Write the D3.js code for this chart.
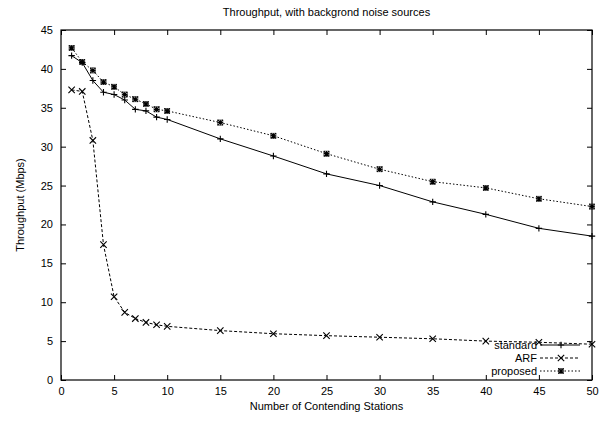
<!DOCTYPE html>
<html><head><meta charset="utf-8">
<script src="https://cdn.jsdelivr.net/npm/d3@7"></script>
<style>
body{margin:0;background:#fff;}
svg{display:block;font-family:"Liberation Sans",Arial,sans-serif;}
</style></head>
<body>
<svg id="c" width="610" height="422"></svg>
<script>
const stations = [1,2,3,4,5,6,7,8,9,10,15,20,25,30,35,40,45,50];
const standard = [41.7,40.8,38.5,37.0,36.7,36.0,34.8,34.6,33.8,33.5,31.0,28.8,26.5,25.0,22.9,21.3,19.5,18.5];
const arf      = [37.3,37.1,30.8,17.4,10.7,8.7,7.9,7.4,7.1,6.9,6.35,5.95,5.7,5.5,5.3,5.0,4.85,4.6];
const proposed = [42.7,40.9,39.8,38.3,37.7,36.7,36.1,35.5,34.8,34.6,33.1,31.4,29.1,27.1,25.5,24.7,23.3,22.3];
const xTicks = [0,5,10,15,20,25,30,35,40,45,50];
const yTicks = [0,5,10,15,20,25,30,35,40,45];
const seriesNames = ["standard","ARF","proposed"];

const svg = d3.select("#c");
const L=61, R=592, T=30, B=380;
const x = d3.scaleLinear().domain([0,50]).range([L,R]);
const y = d3.scaleLinear().domain([0,45]).range([B,T]);
const fs = 11;

const tk = 5;
svg.append("g").attr("transform",`translate(0,${B})`)
  .call(d3.axisBottom(x).tickValues(xTicks).tickSizeInner(-tk).tickSizeOuter(0).tickPadding(7))
  .call(g=>{g.select(".domain").remove();g.selectAll("text").attr("font-size",fs).attr("font-family","Liberation Sans, Arial, sans-serif").attr("fill","#000");});
svg.append("g").attr("transform",`translate(0,${T})`)
  .call(d3.axisTop(x).tickValues(xTicks).tickSizeInner(-tk).tickSizeOuter(0).tickFormat(""))
  .call(g=>g.select(".domain").remove());
svg.append("g").attr("transform",`translate(${L},0)`)
  .call(d3.axisLeft(y).tickValues(yTicks).tickSizeInner(-tk).tickSizeOuter(0).tickPadding(8))
  .call(g=>{g.select(".domain").remove();g.selectAll("text").attr("font-size",fs).attr("font-family","Liberation Sans, Arial, sans-serif").attr("fill","#000");});
svg.append("g").attr("transform",`translate(${R},0)`)
  .call(d3.axisRight(y).tickValues(yTicks).tickSizeInner(-tk).tickSizeOuter(0).tickFormat(""))
  .call(g=>g.select(".domain").remove());
svg.selectAll(".tick line").attr("stroke","#000");

svg.append("rect").attr("x",L).attr("y",T).attr("width",R-L).attr("height",B-T)
  .attr("fill","none").attr("stroke","#000").attr("stroke-width",1.2);

svg.append("text").attr("x",(L+R)/2).attr("y",16).attr("text-anchor","middle").attr("font-size",fs).text("Throughput, with backgrond noise sources");
svg.append("text").attr("x",(L+R)/2).attr("y",410).attr("text-anchor","middle").attr("font-size",fs).text("Number of Contending Stations");
svg.append("text").attr("transform",`translate(24,${(T+B)/2}) rotate(-90)`).attr("text-anchor","middle").attr("font-size",fs).text("Throughput (Mbps)");

const line = d3.line().x(d=>x(d[0])).y(d=>y(d[1]));
const dashes = [null,"3,2","1.5,2"];
const data = [standard,arf,proposed];

function marker(g,type,cx,cy){
  const s = type===2 ? 2.6 : 3.2;
  const p=d3.path();
  if(type===0||type===2){p.moveTo(cx-s,cy);p.lineTo(cx+s,cy);p.moveTo(cx,cy-s);p.lineTo(cx,cy+s);}
  if(type===1||type===2){p.moveTo(cx-s,cy-s);p.lineTo(cx+s,cy+s);p.moveTo(cx-s,cy+s);p.lineTo(cx+s,cy-s);}
  g.append("path").attr("d",p.toString()).attr("stroke","#000").attr("stroke-width",1.1).attr("fill","none");
  if(type===2){g.append("rect").attr("x",cx-s).attr("y",cy-s).attr("width",2*s).attr("height",2*s).attr("fill","none").attr("stroke","#000").attr("stroke-width",0.5);}
}

data.forEach((vals,i)=>{
  const pts = stations.map((s,j)=>[s,vals[j]]);
  svg.append("path").attr("d",line(pts)).attr("fill","none").attr("stroke","#000").attr("stroke-width",1)
    .attr("stroke-dasharray",dashes[i]);
  const g=svg.append("g");
  pts.forEach(p=>marker(g,i,x(p[0]),y(p[1])));
});

const legY=[345,358,371];
seriesNames.forEach((n,i)=>{
  svg.append("text").attr("x",537).attr("y",legY[i]+4).attr("text-anchor","end").attr("font-size",fs).text(n);
  svg.append("line").attr("x1",540).attr("x2",580).attr("y1",legY[i]).attr("y2",legY[i]).attr("stroke","#000").attr("stroke-width",1).attr("stroke-dasharray",dashes[i]);
  marker(svg.append("g"),i,561,legY[i]);
});
</script>
</body></html>
